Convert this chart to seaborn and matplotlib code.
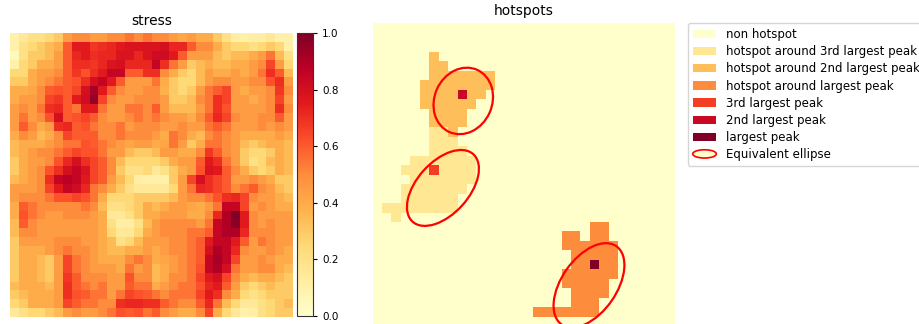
import numpy as np
import seaborn as sns
import matplotlib.pyplot as plt
from matplotlib.patches import Ellipse, Patch
from matplotlib.legend_handler import HandlerPatch

# stress field, 32 x 32 (row 0 = top)
stress_rows = [
    [0.10, 0.15, 0.20, 0.20, 0.25, 0.30, 0.45, 0.50, 0.50, 0.45, 0.45, 0.50, 0.50, 0.55, 0.50, 0.55, 0.50, 0.50, 0.45, 0.42, 0.45, 0.40, 0.40, 0.30, 0.20, 0.12, 0.10, 0.12, 0.12, 0.15, 0.10, 0.10],
    [0.10, 0.20, 0.25, 0.30, 0.35, 0.40, 0.60, 0.75, 0.75, 0.68, 0.70, 0.72, 0.75, 0.78, 0.78, 0.78, 0.78, 0.80, 0.72, 0.72, 0.60, 0.50, 0.50, 0.40, 0.30, 0.25, 0.25, 0.20, 0.25, 0.30, 0.25, 0.10],
    [0.05, 0.20, 0.30, 0.30, 0.35, 0.45, 0.60, 0.72, 0.75, 0.70, 0.72, 0.72, 0.78, 0.78, 0.72, 0.78, 0.82, 0.82, 0.75, 0.60, 0.45, 0.45, 0.45, 0.35, 0.30, 0.35, 0.35, 0.40, 0.45, 0.55, 0.35, 0.20],
    [0.10, 0.25, 0.30, 0.40, 0.40, 0.45, 0.60, 0.70, 0.70, 0.68, 0.72, 0.78, 0.80, 0.72, 0.72, 0.72, 0.85, 0.70, 0.55, 0.45, 0.30, 0.35, 0.40, 0.35, 0.35, 0.40, 0.40, 0.45, 0.50, 0.65, 0.45, 0.25],
    [0.25, 0.25, 0.40, 0.45, 0.45, 0.50, 0.60, 0.68, 0.62, 0.70, 0.75, 0.85, 0.85, 0.60, 0.60, 0.70, 0.70, 0.50, 0.40, 0.30, 0.25, 0.35, 0.45, 0.40, 0.40, 0.45, 0.40, 0.45, 0.55, 0.70, 0.60, 0.35],
    [0.30, 0.30, 0.40, 0.45, 0.50, 0.55, 0.60, 0.62, 0.70, 0.80, 0.85, 0.75, 0.60, 0.45, 0.45, 0.45, 0.55, 0.40, 0.30, 0.25, 0.25, 0.35, 0.45, 0.50, 0.50, 0.45, 0.45, 0.50, 0.50, 0.62, 0.70, 0.45],
    [0.40, 0.40, 0.42, 0.50, 0.60, 0.62, 0.60, 0.65, 0.80, 0.92, 0.75, 0.60, 0.50, 0.45, 0.45, 0.50, 0.50, 0.38, 0.30, 0.25, 0.30, 0.45, 0.55, 0.60, 0.65, 0.45, 0.40, 0.45, 0.45, 0.50, 0.68, 0.50],
    [0.40, 0.45, 0.45, 0.50, 0.65, 0.68, 0.60, 0.75, 0.82, 0.95, 0.65, 0.50, 0.45, 0.45, 0.50, 0.50, 0.50, 0.45, 0.30, 0.30, 0.35, 0.50, 0.55, 0.70, 0.65, 0.45, 0.45, 0.40, 0.45, 0.50, 0.65, 0.45],
    [0.45, 0.50, 0.45, 0.55, 0.70, 0.72, 0.60, 0.55, 0.75, 0.75, 0.55, 0.45, 0.45, 0.55, 0.55, 0.50, 0.60, 0.45, 0.35, 0.35, 0.35, 0.45, 0.55, 0.70, 0.62, 0.45, 0.45, 0.45, 0.45, 0.50, 0.70, 0.50],
    [0.45, 0.55, 0.45, 0.50, 0.62, 0.80, 0.60, 0.62, 0.65, 0.60, 0.50, 0.45, 0.45, 0.50, 0.55, 0.50, 0.55, 0.50, 0.45, 0.45, 0.40, 0.50, 0.60, 0.72, 0.65, 0.50, 0.45, 0.45, 0.50, 0.50, 0.60, 0.45],
    [0.45, 0.60, 0.50, 0.40, 0.45, 0.70, 0.72, 0.60, 0.62, 0.55, 0.50, 0.50, 0.55, 0.45, 0.50, 0.50, 0.50, 0.45, 0.45, 0.50, 0.45, 0.45, 0.55, 0.60, 0.55, 0.45, 0.45, 0.45, 0.50, 0.45, 0.50, 0.45],
    [0.40, 0.50, 0.45, 0.35, 0.40, 0.50, 0.65, 0.60, 0.60, 0.60, 0.50, 0.50, 0.55, 0.50, 0.50, 0.50, 0.45, 0.40, 0.55, 0.50, 0.40, 0.35, 0.50, 0.55, 0.50, 0.45, 0.40, 0.40, 0.40, 0.40, 0.45, 0.40],
    [0.35, 0.40, 0.40, 0.40, 0.45, 0.50, 0.55, 0.55, 0.62, 0.60, 0.55, 0.50, 0.45, 0.42, 0.45, 0.45, 0.40, 0.42, 0.55, 0.45, 0.30, 0.40, 0.55, 0.55, 0.50, 0.45, 0.35, 0.30, 0.35, 0.40, 0.40, 0.35],
    [0.35, 0.40, 0.45, 0.50, 0.50, 0.55, 0.60, 0.65, 0.62, 0.62, 0.55, 0.45, 0.45, 0.35, 0.30, 0.30, 0.35, 0.45, 0.45, 0.40, 0.40, 0.50, 0.68, 0.60, 0.50, 0.45, 0.30, 0.25, 0.25, 0.30, 0.40, 0.35],
    [0.30, 0.40, 0.45, 0.45, 0.50, 0.62, 0.72, 0.80, 0.70, 0.65, 0.60, 0.50, 0.35, 0.25, 0.25, 0.25, 0.25, 0.30, 0.40, 0.45, 0.45, 0.60, 0.75, 0.70, 0.55, 0.45, 0.30, 0.20, 0.25, 0.35, 0.40, 0.35],
    [0.30, 0.40, 0.45, 0.50, 0.62, 0.70, 0.80, 0.85, 0.78, 0.65, 0.60, 0.50, 0.30, 0.20, 0.20, 0.25, 0.15, 0.20, 0.30, 0.40, 0.45, 0.62, 0.78, 0.75, 0.60, 0.50, 0.40, 0.30, 0.25, 0.30, 0.40, 0.35],
    [0.35, 0.40, 0.45, 0.50, 0.70, 0.85, 0.88, 0.85, 0.75, 0.65, 0.60, 0.45, 0.35, 0.25, 0.12, 0.10, 0.10, 0.10, 0.30, 0.45, 0.65, 0.80, 0.70, 0.65, 0.60, 0.45, 0.45, 0.50, 0.45, 0.40, 0.30, 0.30],
    [0.45, 0.45, 0.45, 0.50, 0.65, 0.75, 0.85, 0.82, 0.72, 0.55, 0.50, 0.40, 0.30, 0.20, 0.15, 0.15, 0.15, 0.15, 0.25, 0.45, 0.55, 0.72, 0.70, 0.65, 0.60, 0.50, 0.55, 0.60, 0.50, 0.45, 0.35, 0.30],
    [0.45, 0.50, 0.50, 0.50, 0.55, 0.62, 0.62, 0.65, 0.62, 0.55, 0.40, 0.25, 0.25, 0.25, 0.30, 0.30, 0.30, 0.30, 0.35, 0.45, 0.50, 0.50, 0.55, 0.62, 0.70, 0.72, 0.65, 0.50, 0.45, 0.45, 0.40, 0.35],
    [0.40, 0.60, 0.55, 0.50, 0.50, 0.50, 0.50, 0.50, 0.55, 0.50, 0.35, 0.20, 0.20, 0.25, 0.30, 0.40, 0.35, 0.40, 0.45, 0.45, 0.42, 0.40, 0.45, 0.55, 0.85, 0.85, 0.65, 0.45, 0.50, 0.45, 0.40, 0.40],
    [0.40, 0.62, 0.55, 0.50, 0.45, 0.45, 0.50, 0.50, 0.50, 0.45, 0.40, 0.15, 0.15, 0.20, 0.30, 0.40, 0.40, 0.45, 0.45, 0.45, 0.40, 0.40, 0.50, 0.72, 0.90, 1.00, 0.75, 0.50, 0.45, 0.45, 0.45, 0.45],
    [0.35, 0.60, 0.50, 0.45, 0.45, 0.45, 0.45, 0.45, 0.45, 0.45, 0.40, 0.20, 0.12, 0.12, 0.20, 0.35, 0.45, 0.50, 0.50, 0.50, 0.50, 0.45, 0.55, 0.85, 0.90, 0.98, 0.75, 0.50, 0.45, 0.50, 0.45, 0.45],
    [0.35, 0.50, 0.50, 0.45, 0.45, 0.45, 0.45, 0.45, 0.45, 0.45, 0.40, 0.25, 0.15, 0.15, 0.25, 0.40, 0.45, 0.50, 0.50, 0.50, 0.55, 0.55, 0.60, 0.85, 0.90, 0.90, 0.72, 0.50, 0.50, 0.50, 0.45, 0.45],
    [0.30, 0.45, 0.45, 0.45, 0.45, 0.50, 0.50, 0.50, 0.45, 0.45, 0.40, 0.35, 0.20, 0.25, 0.35, 0.45, 0.45, 0.45, 0.50, 0.50, 0.55, 0.60, 0.75, 0.85, 0.85, 0.75, 0.60, 0.45, 0.55, 0.50, 0.45, 0.45],
    [0.30, 0.40, 0.40, 0.40, 0.45, 0.50, 0.55, 0.50, 0.50, 0.45, 0.40, 0.35, 0.35, 0.40, 0.40, 0.45, 0.40, 0.45, 0.50, 0.50, 0.55, 0.60, 0.80, 0.90, 0.85, 0.72, 0.50, 0.45, 0.45, 0.50, 0.45, 0.40],
    [0.30, 0.40, 0.40, 0.35, 0.30, 0.45, 0.65, 0.55, 0.50, 0.45, 0.40, 0.40, 0.40, 0.50, 0.55, 0.50, 0.40, 0.42, 0.45, 0.50, 0.55, 0.60, 0.85, 0.92, 0.85, 0.65, 0.45, 0.45, 0.50, 0.45, 0.40, 0.40],
    [0.30, 0.40, 0.40, 0.35, 0.30, 0.45, 0.65, 0.55, 0.50, 0.45, 0.45, 0.45, 0.40, 0.55, 0.45, 0.50, 0.35, 0.40, 0.45, 0.50, 0.55, 0.62, 0.85, 0.90, 0.80, 0.55, 0.45, 0.45, 0.50, 0.50, 0.40, 0.35],
    [0.30, 0.40, 0.40, 0.35, 0.30, 0.45, 0.68, 0.60, 0.50, 0.50, 0.50, 0.45, 0.45, 0.62, 0.50, 0.50, 0.35, 0.40, 0.50, 0.50, 0.55, 0.65, 0.75, 0.80, 0.65, 0.50, 0.40, 0.35, 0.40, 0.40, 0.35, 0.30],
    [0.35, 0.40, 0.40, 0.40, 0.35, 0.45, 0.70, 0.60, 0.55, 0.50, 0.55, 0.45, 0.45, 0.60, 0.55, 0.55, 0.40, 0.45, 0.50, 0.55, 0.55, 0.62, 0.72, 0.75, 0.60, 0.45, 0.30, 0.25, 0.30, 0.35, 0.30, 0.30],
    [0.30, 0.35, 0.40, 0.40, 0.40, 0.45, 0.70, 0.62, 0.60, 0.55, 0.55, 0.45, 0.55, 0.65, 0.62, 0.60, 0.55, 0.50, 0.55, 0.55, 0.55, 0.65, 0.75, 0.70, 0.50, 0.40, 0.25, 0.20, 0.25, 0.30, 0.30, 0.30],
    [0.25, 0.30, 0.40, 0.40, 0.40, 0.45, 0.65, 0.60, 0.55, 0.55, 0.50, 0.50, 0.70, 0.72, 0.72, 0.70, 0.70, 0.60, 0.55, 0.50, 0.50, 0.60, 0.72, 0.55, 0.35, 0.25, 0.15, 0.15, 0.20, 0.25, 0.30, 0.35],
    [0.15, 0.20, 0.25, 0.25, 0.30, 0.35, 0.45, 0.50, 0.45, 0.45, 0.50, 0.55, 0.62, 0.60, 0.62, 0.55, 0.60, 0.50, 0.45, 0.40, 0.40, 0.50, 0.65, 0.40, 0.25, 0.15, 0.10, 0.12, 0.20, 0.25, 0.30, 0.30],
]

# hotspot labels, 32 x 32 (0 = none, 1-3 = hotspot areas, 4-6 = peaks)
hotspot_rows = [
    "00000000 00000000 00000000 00000000",
    "00000000 00000000 00000000 00000000",
    "00000000 00000000 00000000 00000000",
    "00000020 00000000 00000000 00000000",
    "00000022 00000000 00000000 00000000",
    "00000022 22222000 00000000 00000000",
    "00000222 22222000 00000000 00000000",
    "00000222 25220000 00000000 00000000",
    "00000222 22200000 00000000 00000000",
    "00000022 22000000 00000000 00000000",
    "00000022 22000000 00000000 00000000",
    "00000011 20000000 00000000 00000000",
    "00000011 10000000 00000000 00000000",
    "00000011 11000000 00000000 00000000",
    "00001111 11100000 00000000 00000000",
    "00011141 11100000 00000000 00000000",
    "00001111 11100000 00000000 00000000",
    "00011111 11000000 00000000 00000000",
    "00011111 10000000 00000000 00000000",
    "01111111 10000000 00000000 00000000",
    "00100000 00000000 00000000 00000000",
    "00000000 00000000 00000003 30000000",
    "00000000 00000000 00003303 30000000",
    "00000000 00000000 00003333 33000000",
    "00000000 00000000 00000333 33000000",
    "00000000 00000000 00000336 33000000",
    "00000000 00000000 00003333 33000000",
    "00000000 00000000 00003333 30000000",
    "00000000 00000000 00000333 30000000",
    "00000000 00000000 00000333 00000000",
    "00000000 00000000 03333333 00000000",
    "00000000 00000000 00000000 00000000",
]

hotspot_labels = [
    "non hotspot",
    "hotspot around 3rd largest peak",
    "hotspot around 2nd largest peak",
    "hotspot around largest peak",
    "3rd largest peak",
    "2nd largest peak",
    "largest peak",
]

# equivalent ellipses, in grid units (x = column, y = row)
ellipse_x = [9.6, 7.45, 22.9]
ellipse_y = [8.2, 17.4, 27.7]
ellipse_minor = [6.1, 5.5, 5.8]
ellipse_major = [7.2, 9.6, 10.1]
ellipse_angle = [24, 42, 35]

stress = np.array(stress_rows)
hotspots = np.array([[int(ch) for ch in row.replace(" ", "")] for row in hotspot_rows])

cmap = plt.get_cmap("YlOrRd")

fig = plt.figure(figsize=(9.2, 3.24), dpi=100)
ax_s = fig.add_axes([0.0109, 0.0216, 0.3076, 0.8765])
ax_cb = fig.add_axes([0.3228, 0.0247, 0.0174, 0.8735])
ax_h = fig.add_axes([0.4049, -0.0062, 0.3288, 0.934])

sns.heatmap(stress, ax=ax_s, cmap=cmap, vmin=0, vmax=1, cbar_ax=ax_cb,
            xticklabels=False, yticklabels=False,
            cbar_kws={"ticks": [0.0, 0.2, 0.4, 0.6, 0.8, 1.0]})
ax_s.set_title("stress", fontsize=10)
cb = ax_s.collections[0].colorbar
cb.outline.set_linewidth(0.8)
cb.outline.set_edgecolor("0.2")
cb.ax.tick_params(labelsize=7.5, length=3, width=0.8)

sns.heatmap(hotspots, ax=ax_h, cmap=cmap, vmin=0, vmax=6, cbar=False,
            xticklabels=False, yticklabels=False)
ax_h.set_title("hotspots", fontsize=10)

for x, y, w, h, a in zip(ellipse_x, ellipse_y, ellipse_minor, ellipse_major, ellipse_angle):
    ax_h.add_patch(Ellipse((x, y), w, h, angle=a, fill=False, edgecolor="red", linewidth=1.6))


def make_ellipse(legend, orig_handle, xdescent, ydescent, width, height, fontsize):
    return Ellipse((width / 2 - xdescent, height / 2 - ydescent), width, height)


handles = [Patch(facecolor=cmap(i / 6)) for i in range(7)]
handles.append(Ellipse((0, 0), 1, 1, facecolor=cmap(0.0), edgecolor="red", linewidth=1.2))
labels = hotspot_labels + ["Equivalent ellipse"]
ax_h.legend(handles, labels, loc="upper left", bbox_to_anchor=(1.043, 1.0),
            borderaxespad=0, fontsize=8.5, labelspacing=0.35,
            handler_map={Ellipse: HandlerPatch(patch_func=make_ellipse)})

fig.savefig("out.png", dpi=100)
